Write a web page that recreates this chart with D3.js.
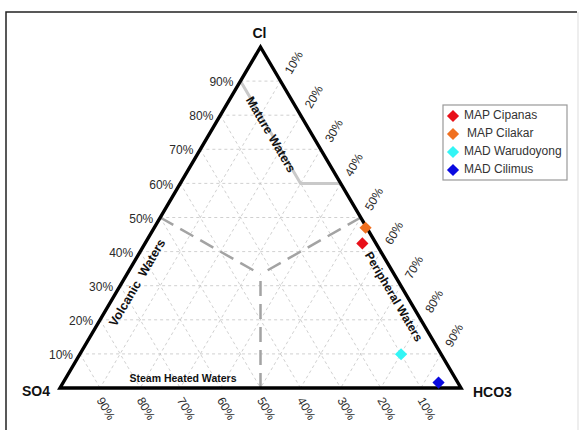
<!DOCTYPE html>
<html>
<head>
<meta charset="utf-8">
<script src="https://cdn.jsdelivr.net/npm/d3@7"></script>
<style>
  body { margin: 0; background: #fff; }
  svg { display: block; font-family: "Liberation Sans", Arial, sans-serif; }
</style>
</head>
<body>
<svg id="ternary" width="579" height="430"></svg>
<script>
// sample names and composition (%)
const samples = ["MAP Cipanas", "MAP Cilakar", "MAD Warudoyong", "MAD Cilimus"];
const clPct = [42.4, 47.0, 9.9, 1.6];
const so4Pct = [3.4, 0.3, 10.0, 4.8];
const hco3Pct = [54.2, 52.7, 80.1, 93.6];
const sampleColors = ["#e8101a", "#f07020", "#33f5f5", "#0a0ae0"];

const tickValues = [10, 20, 30, 40, 50, 60, 70, 80, 90];
const cornerLabels = ["Cl", "SO4", "HCO3"];

const svg = d3.select("#ternary");

// ternary -> screen: x from HCO3 + Cl/2, y from Cl
const x = d3.scaleLinear().domain([0, 100]).range([60, 461]);
const y = d3.scaleLinear().domain([0, 100]).range([388, 47]);
const proj = (cl, so4, hco3) => [x(hco3 + cl / 2), y(cl)];

// frame
svg.append("path")
  .attr("d", "M6,430 V12 H577")
  .attr("fill", "none")
  .attr("stroke", "#222")
  .attr("stroke-width", 1.5);
svg.append("line")
  .attr("x1", 578).attr("y1", 12).attr("x2", 578).attr("y2", 430)
  .attr("stroke", "#ddd");

const grid = svg.append("g")
  .attr("stroke", "#c4c4c4")
  .attr("stroke-width", 0.8)
  .attr("stroke-dasharray", "3,3")
  .attr("fill", "none");

tickValues.forEach(k => {
  const lines = [
    [proj(k, 100 - k, 0), proj(k, 0, 100 - k)],
    [proj(100 - k, k, 0), proj(0, k, 100 - k)],
    [proj(100 - k, 0, k), proj(0, 100 - k, k)]
  ];
  lines.forEach(([a, b]) => {
    grid.append("line")
      .attr("x1", a[0]).attr("y1", a[1])
      .attr("x2", b[0]).attr("y2", b[1]);
  });
});

// field boundaries
const mature = [proj(90, 10, 0), proj(60, 10, 30), proj(60, 0, 40)];
svg.append("path")
  .attr("d", d3.line()(mature))
  .attr("fill", "none")
  .attr("stroke", "#c9c9c9")
  .attr("stroke-width", 3);

const centre = proj(100 / 3, 100 / 3, 100 / 3);
[proj(50, 50, 0), proj(50, 0, 50), proj(0, 50, 50)].forEach(p => {
  svg.append("line")
    .attr("x1", p[0]).attr("y1", p[1])
    .attr("x2", centre[0]).attr("y2", centre[1])
    .attr("stroke", "#a3a3a3")
    .attr("stroke-width", 2.5)
    .attr("stroke-dasharray", "15,8");
});

// triangle
const corners = [proj(100, 0, 0), proj(0, 100, 0), proj(0, 0, 100)];
svg.append("path")
  .attr("d", d3.line()(corners) + "Z")
  .attr("fill", "none")
  .attr("stroke", "#000")
  .attr("stroke-width", 3.4)
  .attr("stroke-linejoin", "miter");

// corner labels
const cornerText = svg.append("g")
  .style("font-size", "14px")
  .style("font-weight", "bold")
  .attr("fill", "#111");
cornerText.append("text").attr("x", corners[0][0] - 1).attr("y", 38)
  .attr("text-anchor", "middle").text(cornerLabels[0]);
cornerText.append("text").attr("x", corners[1][0] - 10).attr("y", corners[1][1] + 8)
  .attr("text-anchor", "end").text(cornerLabels[1]);
cornerText.append("text").attr("x", corners[2][0] + 12).attr("y", corners[2][1] + 9)
  .attr("text-anchor", "start").text(cornerLabels[2]);

// tick labels
const tickText = svg.append("g")
  .style("font-size", "12px")
  .attr("fill", "#2a2a2a");

tickValues.forEach(k => {
  const l = proj(k, 100 - k, 0);
  tickText.append("text")
    .attr("x", l[0] - 7).attr("y", l[1] + 2)
    .attr("text-anchor", "end")
    .attr("dominant-baseline", "middle")
    .text(k + "%");

  const r = proj(100 - k, 0, k);
  tickText.append("text")
    .attr("transform", `translate(${r[0] + 14},${r[1] - 18}) rotate(-60)`)
    .attr("text-anchor", "middle")
    .attr("dominant-baseline", "middle")
    .text(k + "%");

  const b = proj(0, k, 100 - k);
  tickText.append("text")
    .attr("transform", `translate(${b[0] + 5},${b[1] + 21}) rotate(60)`)
    .attr("text-anchor", "middle")
    .attr("dominant-baseline", "middle")
    .text(k + "%");
});

// field names
const fieldText = svg.append("g")
  .style("font-size", "12.5px")
  .style("font-weight", "bold")
  .attr("fill", "#111")
  .attr("text-anchor", "middle")
  .attr("dominant-baseline", "middle");
fieldText.append("text")
  .attr("transform", "translate(270,135) rotate(59.5)")
  .text("Mature Waters");
fieldText.append("text")
  .attr("transform", "translate(138,283) rotate(-59.5)")
  .style("white-space", "pre")
  .text("Volcanic  Waters");
fieldText.append("text")
  .attr("transform", "translate(393,297) rotate(59.5)")
  .style("font-size", "12px")
  .text("Peripheral Waters");
fieldText.append("text")
  .attr("x", 183).attr("y", 379)
  .style("font-size", "10.5px")
  .text("Steam Heated Waters");

// samples
const diamond = d3.symbol().type(d3.symbolDiamond2).size(95);
samples.forEach((s, i) => {
  const p = proj(clPct[i], so4Pct[i], hco3Pct[i]);
  svg.append("path")
    .attr("d", diamond())
    .attr("transform", `translate(${p[0]},${p[1]})`)
    .attr("fill", sampleColors[i]);
});

// legend
const legend = svg.append("g").attr("transform", "translate(443,105)");
legend.append("rect")
  .attr("width", 124).attr("height", 75)
  .attr("fill", "#fff")
  .attr("stroke", "#999")
  .attr("stroke-width", 1.2);
const legendY = d3.scalePoint().domain(samples).range([11, 65]);
samples.forEach((s, i) => {
  const row = legend.append("g").attr("transform", `translate(0,${legendY(s)})`);
  row.append("path")
    .attr("d", diamond())
    .attr("transform", "translate(10,0)")
    .attr("fill", sampleColors[i]);
  row.append("text")
    .attr("x", i === 1 ? 24 : 21)
    .attr("dominant-baseline", "middle")
    .style("font-size", "12px")
    .attr("fill", "#333")
    .text(s);
});
</script>
</body>
</html>
